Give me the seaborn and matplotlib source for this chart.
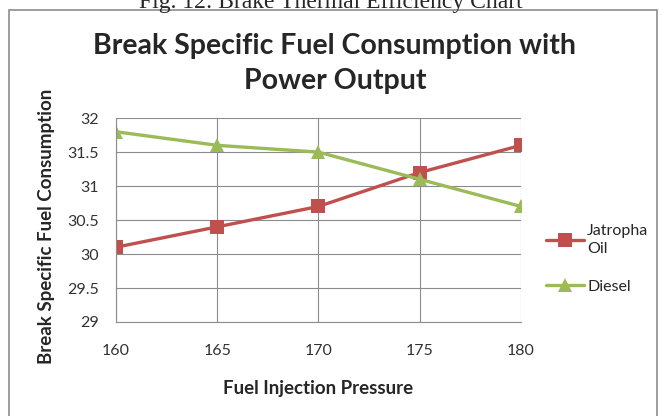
"""
plot.py

Break specific fuel consumption vs fuel injection pressure, Excel-style line chart.
"""

import matplotlib.pyplot as plt
from matplotlib.patches import Rectangle
import pandas as pd
import seaborn as sns

pressure = [160, 165, 170, 175, 180]
jatropha = [30.1, 30.4, 30.7, 31.2, 31.6]
diesel = [31.8, 31.6, 31.5, 31.1, 30.7]
series_names = ["Jatropha\nOil", "Diesel"]
y_ticks = [29, 29.5, 30, 30.5, 31, 31.5, 32]


def main():
    df = pd.concat([
        pd.DataFrame({"Pressure": pressure, "BSFC": jatropha, "Fuel": series_names[0]}),
        pd.DataFrame({"Pressure": pressure, "BSFC": diesel, "Fuel": series_names[1]}),
    ])

    sns.set_style("white")
    plt.rcParams["font.family"] = ["Lato", "DejaVu Sans"]

    fig = plt.figure(figsize=(6.62, 4.16), dpi=100)
    ax = fig.add_axes([0.175, 0.226, 0.612, 0.490])

    sns.lineplot(
        data=df, x="Pressure", y="BSFC", hue="Fuel", style="Fuel",
        palette={series_names[0]: "#C0504D", series_names[1]: "#9BBB59"},
        markers={series_names[0]: "s", series_names[1]: "^"},
        dashes=False, markersize=9.5, markeredgewidth=0, linewidth=2.4, ax=ax,
    )

    ax.set_xlim(160, 180)
    ax.set_ylim(29, 32)
    ax.set_xticks(pressure)
    ax.set_yticks(y_ticks)
    ax.set_yticklabels([f"{t:g}" for t in y_ticks])
    ax.grid(True, color="#8C8C8C", linewidth=0.8)
    ax.set_axisbelow(True)
    for side in ["top", "right"]:
        ax.spines[side].set_visible(False)
    for side in ["left", "bottom"]:
        ax.spines[side].set_color("#8C8C8C")
        ax.spines[side].set_linewidth(0.8)
    ax.tick_params(axis="both", direction="out", length=4, color="#8C8C8C",
                   labelsize=11.5, colors="#333333", pad=8)
    ax.tick_params(axis="x", pad=12)
    for lbl in ax.get_xticklabels() + ax.get_yticklabels():
        lbl.set_color("#333333")

    ax.set_xlabel("Fuel Injection Pressure", fontsize=13.5, fontweight="bold", labelpad=16)
    ax.set_ylabel("Break Specific Fuel Consumption", fontsize=13.5, fontweight="bold")
    ax.yaxis.set_label_coords(-0.15, 0.47)

    fig.text(0.506, 0.848, "Break Specific Fuel Consumption with\nPower Output",
             ha="center", va="center", fontsize=20.5, fontweight="bold", linespacing=1.45)

    ax.legend(loc="center left", bbox_to_anchor=(1.045, 0.31), frameon=False,
              fontsize=11.5, handlelength=2.4, labelspacing=1.45, handletextpad=0.2,
              borderaxespad=0.0)
    for txt in ax.get_legend().get_texts():
        txt.set_linespacing(1.4)

    # caption from the page above, cut off by the crop
    fig.text(0.5, 0.995, "Fig. 12: Brake Thermal Efficiency Chart", ha="center", va="center",
             fontsize=17, family=["Liberation Serif", "DejaVu Serif"])

    fig.patches.append(Rectangle((0.014, -0.01), 0.978, 0.987, transform=fig.transFigure,
                                 fill=False, edgecolor="#8C8C8C", linewidth=1.2))

    fig.savefig("out.png", dpi=100)


if __name__ == "__main__":
    main()
